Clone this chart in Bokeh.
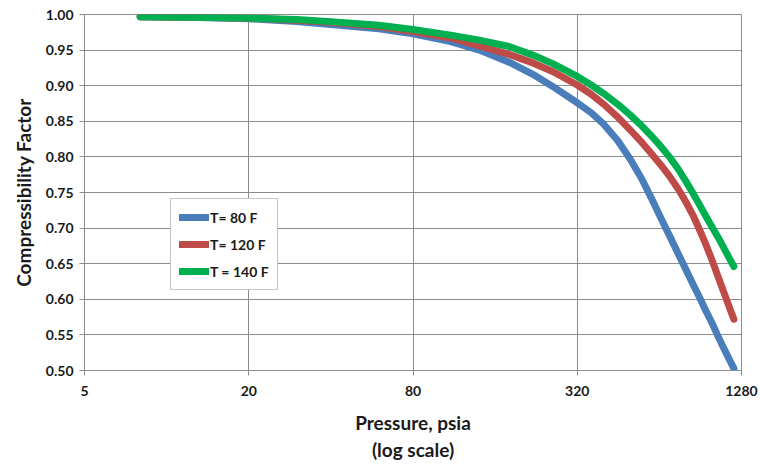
from bokeh.plotting import figure
from bokeh.models import (Range1d, FixedTicker, PrintfTickFormatter, Legend, LegendItem)
from bokeh.embed import file_html
from bokeh.resources import INLINE

# Z-factor vs pressure for three temperatures
pressure = [8, 12, 20, 30, 40, 60, 80, 110, 140, 180, 220, 260, 320, 360, 400, 450,
            500, 550, 600, 650, 700, 750, 800, 850, 900, 950, 1000, 1050, 1100, 1150, 1200]
z_80f = [0.997, 0.996, 0.994, 0.990, 0.986, 0.980, 0.973, 0.962, 0.950, 0.933, 0.916,
         0.899, 0.876, 0.862, 0.846, 0.823, 0.797, 0.770, 0.741, 0.713, 0.688, 0.664,
         0.642, 0.621, 0.602, 0.583, 0.566, 0.548, 0.532, 0.517, 0.503]
z_120f = [0.997, 0.996, 0.995, 0.992, 0.989, 0.983, 0.976, 0.967, 0.956, 0.944, 0.932,
          0.920, 0.901, 0.888, 0.874, 0.856, 0.838, 0.821, 0.804, 0.788, 0.772, 0.755,
          0.737, 0.718, 0.697, 0.676, 0.654, 0.632, 0.611, 0.591, 0.572]
z_140f = [0.997, 0.996, 0.995, 0.993, 0.990, 0.985, 0.979, 0.971, 0.964, 0.955, 0.943,
          0.931, 0.913, 0.901, 0.889, 0.874, 0.859, 0.844, 0.829, 0.814, 0.799, 0.783,
          0.766, 0.749, 0.732, 0.716, 0.701, 0.687, 0.673, 0.659, 0.646]

x_ticks = [5, 20, 80, 320, 1280]
y_ticks = [0.50, 0.55, 0.60, 0.65, 0.70, 0.75, 0.80, 0.85, 0.90, 0.95, 1.00]

series = [
    ("T= 80 F", z_80f, "#4A7EBB"),
    ("T= 120 F", z_120f, "#BE4B48"),
    ("T = 140 F", z_140f, "#00B050"),
]

FONT = "Lato"
TXT = "#1a1a1a"

p = figure(width=760, height=464, x_axis_type="log",
           x_range=Range1d(5, 1280), y_range=Range1d(0.5, 1.0),
           output_backend="svg", toolbar_location=None,
           min_border_left=84, min_border_right=19,
           min_border_top=14, min_border_bottom=93)

p.outline_line_color = "#8c8c8c"
p.outline_line_width = 1
p.background_fill_color = "white"
p.border_fill_color = "white"

# gridlines
for g in (p.xgrid, p.ygrid):
    g.grid_line_color = "#8c8c8c"
    g.grid_line_width = 1
p.xgrid.ticker = FixedTicker(ticks=x_ticks)
p.ygrid.ticker = FixedTicker(ticks=y_ticks)

# axes
p.xaxis.ticker = FixedTicker(ticks=x_ticks, minor_ticks=[])
p.xaxis.formatter = PrintfTickFormatter(format="%d")
p.yaxis.ticker = FixedTicker(ticks=y_ticks, minor_ticks=[])
p.yaxis.formatter = PrintfTickFormatter(format="%.2f")

for ax in (p.xaxis[0], p.yaxis[0]):
    ax.axis_line_color = "#8c8c8c"
    ax.major_tick_line_color = "#8c8c8c"
    ax.major_tick_out = 5
    ax.major_tick_in = 0
    ax.minor_tick_line_color = None
    ax.major_label_text_font = FONT
    ax.major_label_text_font_style = "bold"
    ax.major_label_text_font_size = "14px"
    ax.major_label_text_color = TXT
    ax.axis_label_text_font = FONT
    ax.axis_label_text_font_style = "bold"
    ax.axis_label_text_font_size = "19px"
    ax.axis_label_text_color = TXT

p.xaxis.major_label_standoff = 10
p.yaxis.major_label_standoff = 6
p.xaxis.axis_label = "Pressure, psia\n(log scale)"
p.xaxis.axis_label_standoff = 12
p.yaxis.axis_label = "Compressibility Factor"
p.yaxis.axis_label_standoff = 8

items = []
for label, zs, color in series:
    r = p.line(pressure, zs, line_color=color, line_width=7,
               line_cap="round", line_join="round")
    items.append(LegendItem(label=label, renderers=[r]))

legend = Legend(items=items, location=(86, 80),
                label_text_font=FONT, label_text_font_style="bold",
                label_text_font_size="14px", label_text_color=TXT,
                glyph_width=30, glyph_height=20, label_standoff=1,
                spacing=7, padding=8, margin=0,
                border_line_color="#8c8c8c", border_line_width=1,
                background_fill_alpha=1.0)
p.add_layout(legend, "center")

open("out.html", "w").write(file_html(p, INLINE))
